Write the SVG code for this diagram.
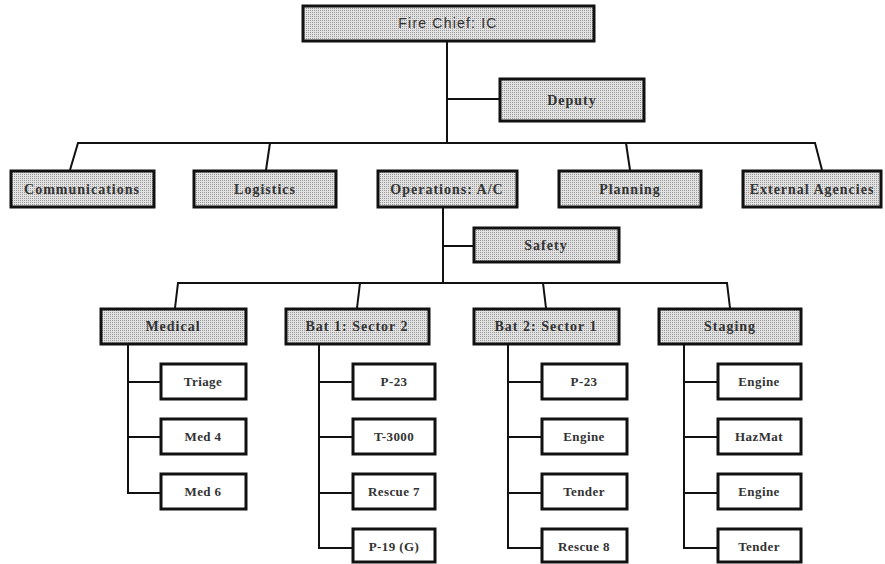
<svg xmlns="http://www.w3.org/2000/svg" width="885" height="564" viewBox="0 0 885 564">
<defs>
<pattern id="stip" width="2" height="2" patternUnits="userSpaceOnUse">
<rect width="2" height="2" fill="#e2e2e2"/>
<rect width="1" height="1" fill="#9a9a9a"/>
</pattern>
</defs>
<style>
.box{stroke:#111;stroke-width:3;}
.sh{fill:url(#stip);}
.lf{fill:#fff;}
.t{font-family:"Liberation Serif","Times New Roman",serif;font-weight:bold;font-size:14px;letter-spacing:1px;fill:#333;text-anchor:middle;dominant-baseline:central;}
.tl{font-family:"Liberation Serif","Times New Roman",serif;font-weight:bold;font-size:13px;letter-spacing:0.4px;fill:#333;text-anchor:middle;dominant-baseline:central;}
.ts{font-family:"Liberation Sans",Arial,sans-serif;font-size:14px;letter-spacing:1.2px;fill:#333;text-anchor:middle;dominant-baseline:central;}
.c{fill:none;stroke:#111;stroke-width:2;}
</style>
<rect width="885" height="564" fill="#fff"/>
<g id="connectors">
<path class="c" d="M447 41 V143"/>
<path class="c" d="M447 99 H500"/>
<path class="c" d="M70 170 L78 143 H815 L822 170"/>
<path class="c" d="M266 170 L270 143"/>
<path class="c" d="M626 143 L630 170"/>
<path class="c" d="M443 208 V283"/>
<path class="c" d="M443 246 H473"/>
<path class="c" d="M175 308 L178 283 H727 L730 308"/>
<path class="c" d="M357 308 L360 283"/>
<path class="c" d="M543 283 L546 308"/>
<path class="c" d="M128 344 V493 H160 M128 382 H160 M128 437 H160"/>
<path class="c" d="M319 344 V548 H352 M319 382 H352 M319 437 H352 M319 493 H352"/>
<path class="c" d="M508 344 V548 H541 M508 382 H541 M508 437 H541 M508 493 H541"/>
<path class="c" d="M684 344 V548 H717 M684 382 H717 M684 437 H717 M684 493 H717"/>
</g>
<g id="fire-chief"><rect class="box sh" x="303" y="6" width="291" height="35"/><text class="ts" x="448" y="23">Fire Chief: IC</text></g>
<g id="deputy"><rect class="box sh" x="500" y="79" width="144" height="42"/><text class="t" x="572" y="100">Deputy</text></g>
<g id="communications"><rect class="box sh" x="11" y="171" width="143" height="36"/><text class="t" x="82" y="189">Communications</text></g>
<g id="logistics"><rect class="box sh" x="194" y="171" width="142" height="36"/><text class="t" x="265" y="189">Logistics</text></g>
<g id="operations"><rect class="box sh" x="378" y="171" width="139" height="36"/><text class="t" x="447" y="189">Operations: A/C</text></g>
<g id="planning"><rect class="box sh" x="559" y="171" width="142" height="36"/><text class="t" x="630" y="189">Planning</text></g>
<g id="external-agencies"><rect class="box sh" x="743" y="171" width="138" height="36"/><text class="t" x="812" y="189">External Agencies</text></g>
<g id="safety"><rect class="box sh" x="474" y="228" width="145" height="34"/><text class="t" x="546" y="245">Safety</text></g>
<g id="medical"><rect class="box sh" x="101" y="309" width="145" height="35"/><text class="t" x="173" y="326">Medical</text></g>
<g id="bat1"><rect class="box sh" x="286" y="309" width="143" height="35"/><text class="t" x="357" y="326">Bat 1: Sector 2</text></g>
<g id="bat2"><rect class="box sh" x="474" y="309" width="145" height="35"/><text class="t" x="546" y="326">Bat 2: Sector 1</text></g>
<g id="staging"><rect class="box sh" x="659" y="309" width="142" height="35"/><text class="t" x="730" y="326">Staging</text></g>
<g id="triage"><rect class="box lf" x="161" y="364" width="85" height="35"/><text class="tl" x="203" y="381">Triage</text></g>
<g id="med4"><rect class="box lf" x="161" y="419" width="85" height="35"/><text class="tl" x="203" y="436">Med 4</text></g>
<g id="med6"><rect class="box lf" x="161" y="474" width="85" height="35"/><text class="tl" x="203" y="491">Med 6</text></g>
<g id="p23a"><rect class="box lf" x="353" y="364" width="82" height="35"/><text class="tl" x="394" y="381">P-23</text></g>
<g id="t3000"><rect class="box lf" x="353" y="419" width="82" height="35"/><text class="tl" x="394" y="436">T-3000</text></g>
<g id="rescue7"><rect class="box lf" x="353" y="474" width="82" height="35"/><text class="tl" x="394" y="491">Rescue 7</text></g>
<g id="p19g"><rect class="box lf" x="353" y="529" width="82" height="33"/><text class="tl" x="394" y="546">P-19 (G)</text></g>
<g id="p23b"><rect class="box lf" x="542" y="364" width="85" height="35"/><text class="tl" x="584" y="381">P-23</text></g>
<g id="engine-b"><rect class="box lf" x="542" y="419" width="85" height="35"/><text class="tl" x="584" y="436">Engine</text></g>
<g id="tender-b"><rect class="box lf" x="542" y="474" width="85" height="35"/><text class="tl" x="584" y="491">Tender</text></g>
<g id="rescue8"><rect class="box lf" x="542" y="529" width="85" height="33"/><text class="tl" x="584" y="546">Rescue 8</text></g>
<g id="engine-s1"><rect class="box lf" x="718" y="364" width="83" height="35"/><text class="tl" x="759" y="381">Engine</text></g>
<g id="hazmat"><rect class="box lf" x="718" y="419" width="83" height="35"/><text class="tl" x="759" y="436">HazMat</text></g>
<g id="engine-s2"><rect class="box lf" x="718" y="474" width="83" height="35"/><text class="tl" x="759" y="491">Engine</text></g>
<g id="tender-s"><rect class="box lf" x="718" y="529" width="83" height="33"/><text class="tl" x="759" y="546">Tender</text></g>
</svg>
